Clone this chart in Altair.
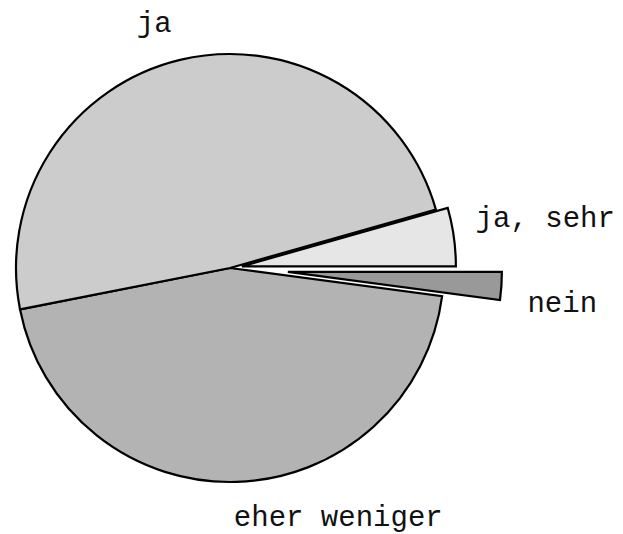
import math
import altair as alt
import pandas as pd

# ---- data (percent of the pie) ----
labels = ["nein", "eher weniger", "ja", "ja, sehr"]
values = [2.1, 44.8, 48.7, 4.4]
colors = ["#999999", "#b3b3b3", "#cccccc", "#e6e6e6"]

# ---- style / layout ----
CX, CY, R = 222, 260, 214           # pie centre (chart coords) and radius
explode = {"nein": 58, "ja, sehr": 12}
TEXT_R = 250
label_style = {
    "ja":           dict(align="right", dx=0,  dy=7),
    "ja, sehr":     dict(align="left",  dx=-2, dy=-7),
    "nein":         dict(align="left",  dx=48, dy=28),
    "eher weniger": dict(align="left",  dx=-4, dy=8),
}

df = pd.DataFrame({"label": labels, "value": values})
total = float(df["value"].sum())
df["end"] = df["value"].cumsum()
df["start"] = df["end"] - df["value"]
df["mid"] = (df["start"] + df["end"]) / 2
df["explode"] = df["label"].map(explode).fillna(0)

theta_scale = alt.Scale(domain=[0, total], range=[math.pi / 2, math.pi / 2 + 2 * math.pi])

ang = f"(PI/2 + 2*PI*datum.mid/{total})"
base = alt.Chart(df).transform_calculate(
    cx=f"{CX} + datum.explode*sin({ang})",
    cy=f"{CY} - datum.explode*cos({ang})",
)

arcs = base.mark_arc(
    outerRadius=R, stroke="black", strokeWidth=2.2, strokeJoin="miter"
).encode(
    theta=alt.Theta("start:Q", scale=theta_scale),
    theta2="end:Q",
    x=alt.X("cx:Q", scale=None, axis=None),
    y=alt.Y("cy:Q", scale=None, axis=None),
    color=alt.Color("label:N", scale=alt.Scale(domain=labels, range=colors), legend=None),
)

texts = []
for lab in labels:
    st = label_style[lab]
    texts.append(
        alt.Chart(df).transform_filter(alt.datum.label == lab).mark_text(
            radius=TEXT_R, align=st["align"], baseline="alphabetic",
            dx=st["dx"], dy=st["dy"], font="Liberation Mono", fontSize=29,
            color="#111111",
        ).encode(
            theta=alt.Theta("mid:Q", scale=theta_scale),
            x=alt.value(CX),
            y=alt.value(CY),
            text="label:N",
        )
    )

chart = alt.layer(arcs, *texts).properties(
    width=607, height=526, autosize=alt.AutoSizeParams(type="none"), padding=0,
    background="white",
).configure_view(strokeWidth=0)

chart.save("out.html", embed_options={"renderer": "svg", "actions": False})
